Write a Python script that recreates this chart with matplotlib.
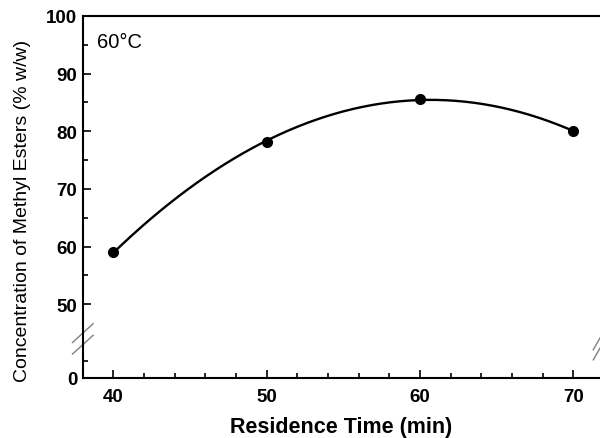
import numpy as np
import matplotlib.pyplot as plt
from matplotlib.ticker import FixedLocator, MultipleLocator

plt.rcParams['font.family'] = ['Liberation Sans', 'DejaVu Sans']

# Measured data at 60 C
time_min = np.array([40, 50, 60, 70])
esters = np.array([59.0, 78.2, 85.6, 80.0])

# y-axis is broken: "0" drawn at the bottom of the axis
y_zero_pos = 37.2
y_major = [y_zero_pos, 50, 60, 70, 80, 90, 100]
y_labels = ['0', '50', '60', '70', '80', '90', '100']
y_minor = [40.2, 55, 65, 75, 85, 95]

# quadratic fit through the points
coef = np.polyfit(time_min, esters, 2)
xs = np.linspace(40, 70, 200)
ys = np.polyval(coef, xs)

fig = plt.figure(figsize=(6, 4.39), dpi=100)
ax = fig.add_axes([0.138, 0.1367, 0.862, 0.8246])

ax.plot(xs, ys, color='black', lw=1.7)
ax.plot(time_min, esters, 'o', color='black', ms=7)

ax.set_xlim(38, 71.75)
ax.set_ylim(y_zero_pos, 100)

ax.xaxis.set_major_locator(FixedLocator([40, 50, 60, 70]))
ax.xaxis.set_minor_locator(MultipleLocator(2))
ax.yaxis.set_major_locator(FixedLocator(y_major))
ax.set_yticklabels(y_labels)
ax.yaxis.set_minor_locator(FixedLocator(y_minor))

ax.tick_params(which='both', direction='in', width=1.2, labelsize=13.5)
ax.tick_params(which='major', length=6)
ax.tick_params(which='minor', length=3.5)
ax.tick_params(axis='x', pad=7)
ax.tick_params(axis='y', pad=4)
for lbl in ax.get_xticklabels() + ax.get_yticklabels():
    lbl.set_fontweight('bold')

ax.spines['right'].set_visible(False)
for s in ['left', 'bottom', 'top']:
    ax.spines[s].set_linewidth(1.5)

ax.set_xlabel('Residence Time (min)', fontsize=15.5, fontweight='bold', labelpad=8)
ax.set_ylabel('Concentration of Methyl Esters (% w/w)', fontsize=14)
ax.yaxis.set_label_coords(-0.1, 0.464)

ax.text(0.027, 0.955, '60°C', transform=ax.transAxes, fontsize=14.5,
        ha='left', va='top')

# break marks on the left spine and the right edge
def brk(x0, y0, dx, dy):
    ax.plot([x0 - dx, x0 + dx], [y0 - dy, y0 + dy], transform=ax.transAxes,
            color='gray', lw=1.0, clip_on=False)

brk(0.0, 0.124, 0.02, 0.026)
brk(0.0, 0.092, 0.02, 0.026)
brk(0.995, 0.098, 0.008, 0.02)
brk(0.995, 0.07, 0.008, 0.02)

fig.savefig('out.png', dpi=100)
